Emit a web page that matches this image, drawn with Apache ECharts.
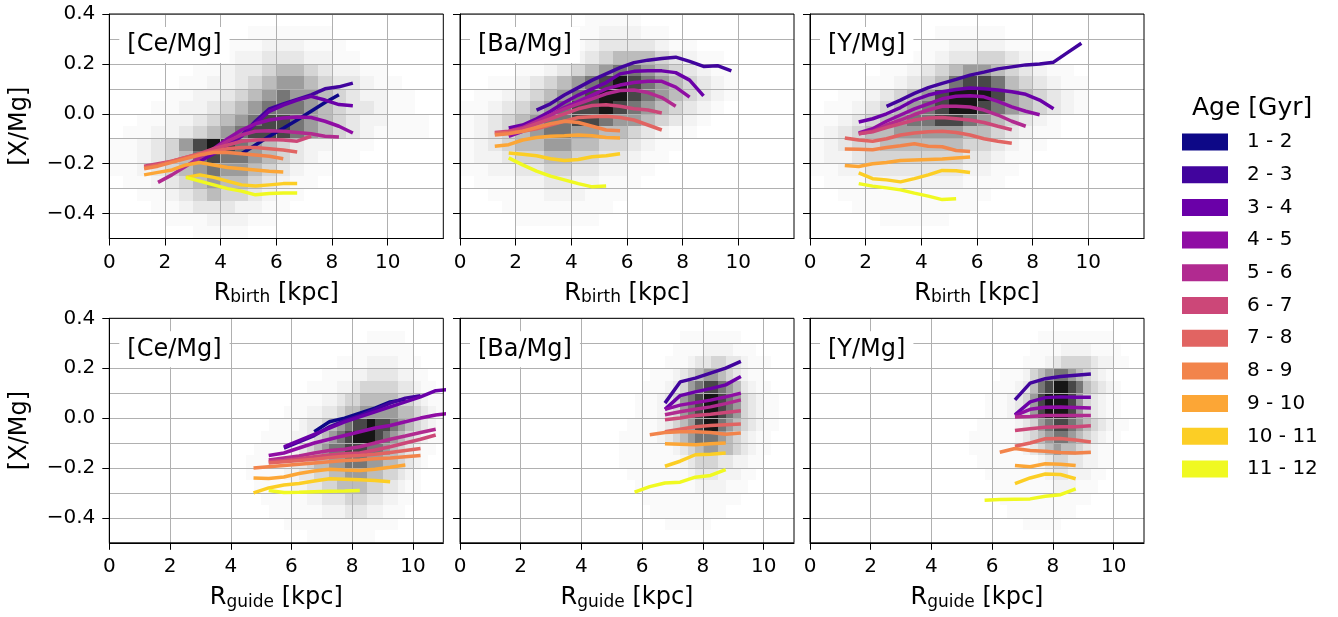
<!DOCTYPE html>
<html><head><meta charset="utf-8">
<script src="https://cdn.jsdelivr.net/npm/echarts@6/dist/echarts.min.js"></script>
<style>html,body{margin:0;padding:0;background:#fff}#c{width:1338px;height:617px}</style>
</head><body><div id="c"></div>
<script>
// ---------------- DATA ----------------
const ageBins = ['1 - 2','2 - 3','3 - 4','4 - 5','5 - 6','6 - 7','7 - 8','8 - 9','9 - 10','10 - 11','11 - 12'];
const panelLabels = ['[Ce/Mg]','[Ba/Mg]','[Y/Mg]','[Ce/Mg]','[Ba/Mg]','[Y/Mg]'];
const xTickValues = [0,2,4,6,8,10];
const yTickValues = [-0.4,-0.2,0,0.2,0.4];
const medianBinStep = 0.5;           // spacing of the running-median bins (kpc)

// running medians per age bin: [first bin centre, [values...]] (null = not plotted)
const ceBirthLines = [
  [4.75, [-0.16,-0.125,-0.09,-0.058,-0.025,0.01,0.045,0.076]],
  [3.75, [-0.16,-0.125,-0.088,-0.03,0.02,0.04,0.058,0.076,0.1,0.108,0.123]],
  [3.25, [-0.19,-0.16,-0.125,-0.09,-0.04,0.01,0.035,0.055,0.07,0.055,0.037,0.032]],
  [3.25, [-0.17,-0.14,-0.1,-0.065,-0.04,-0.025,-0.017,-0.013,-0.015,-0.03,-0.05,-0.077]],
  [1.75, [-0.275,-0.245,-0.21,-0.175,-0.14,-0.11,-0.085,-0.07,-0.068,-0.07,-0.075,-0.08,-0.09,-0.093]],
  [1.25, [-0.21,-0.2,-0.19,-0.175,-0.16,-0.14,-0.125,-0.11,-0.105,-0.103,-0.105,-0.11,-0.09]],
  [1.25, [-0.215,-0.205,-0.19,-0.175,-0.16,-0.15,-0.14,-0.135,-0.135,-0.14,-0.145,-0.153]],
  [1.25, [-0.22,-0.21,-0.195,-0.18,-0.165,-0.155,-0.155,-0.16,-0.165,-0.17,-0.18]],
  [1.25, [-0.245,-0.235,-0.225,-0.205,-0.195,-0.205,-0.215,-0.22,-0.225,-0.23,-0.233]],
  [2.75, [-0.255,-0.245,-0.255,-0.27,-0.285,-0.29,-0.285,-0.28,-0.28]],
  [2.75, [-0.255,-0.27,-0.285,-0.3,-0.31,-0.325,-0.32,-0.318,-0.318]]
];
const baBirthLines = [
  null,
  [2.75, [0.015,0.04,0.075,0.105,0.135,0.16,0.185,0.205,0.215,0.222,0.227,0.21,0.19,0.193,0.172]],
  [1.75, [-0.057,-0.045,-0.02,0.01,0.045,0.075,0.1,0.125,0.16,0.17,0.172,0.172,0.165,0.135,0.072]],
  [1.75, [-0.09,-0.07,-0.035,-0.005,0.025,0.05,0.075,0.1,0.115,0.125,0.13,0.13,0.107,0.067]],
  [1.75, [-0.07,-0.055,-0.03,-0.005,0.02,0.04,0.06,0.08,0.093,0.095,0.085,0.065,0.03]],
  [1.25, [-0.075,-0.07,-0.06,-0.04,-0.02,0.0,0.02,0.033,0.036,0.03,0.02,0.015,0.003]],
  [1.25, [-0.078,-0.075,-0.07,-0.06,-0.045,-0.03,-0.015,-0.012,-0.01,-0.015,-0.025,-0.045,-0.065]],
  [1.25, [-0.085,-0.08,-0.07,-0.055,-0.04,-0.03,-0.035,-0.05,-0.065,-0.068]],
  [1.25, [-0.13,-0.124,-0.105,-0.095,-0.09,-0.088,-0.085,-0.088,-0.095,-0.097]],
  [1.75, [-0.157,-0.162,-0.168,-0.18,-0.187,-0.183,-0.172,-0.168,-0.16]],
  [1.75, [-0.177,-0.205,-0.23,-0.25,-0.265,-0.28,-0.293,-0.29]]
];
const yBirthLines = [
  null,
  [2.75, [0.03,0.055,0.082,0.105,0.122,0.138,0.155,0.167,0.18,0.188,0.196,0.2,0.207,0.245,0.283]],
  [1.75, [-0.033,-0.02,0.0,0.025,0.055,0.075,0.088,0.097,0.103,0.1,0.095,0.088,0.078,0.055,0.02]],
  [1.75, [-0.077,-0.06,-0.03,-0.005,0.02,0.04,0.06,0.07,0.072,0.068,0.05,0.028,0.01,-0.004]],
  [1.75, [-0.08,-0.07,-0.045,-0.025,-0.003,0.015,0.03,0.03,0.027,0.015,-0.005,-0.03,-0.05]],
  [1.75, [-0.08,-0.072,-0.055,-0.04,-0.025,-0.017,-0.015,-0.02,-0.025,-0.035,-0.05,-0.064]],
  [1.25, [-0.097,-0.105,-0.11,-0.1,-0.085,-0.077,-0.072,-0.07,-0.075,-0.085,-0.1,-0.11,-0.118]],
  [1.25, [-0.141,-0.142,-0.144,-0.135,-0.128,-0.12,-0.13,-0.132,-0.147,-0.151]],
  [1.25, [-0.207,-0.211,-0.2,-0.195,-0.187,-0.185,-0.183,-0.181,-0.177,-0.173]],
  [1.75, [-0.237,-0.26,-0.265,-0.273,-0.26,-0.245,-0.227,-0.228,-0.235]],
  [1.75, [-0.28,-0.29,-0.297,-0.305,-0.318,-0.33,-0.344,-0.341]]
];
const ceGuideLines = [
  [6.75, [-0.055,-0.015,0.0,0.02,0.04,0.065,0.075]],
  [5.75, [-0.12,-0.095,-0.07,-0.035,-0.01,0.01,0.035,0.06,0.08,0.09]],
  [5.75, [-0.115,-0.09,-0.065,-0.04,-0.015,0.005,0.025,0.045,0.065,0.085,0.11,0.115]],
  [5.25, [-0.15,-0.14,-0.12,-0.1,-0.085,-0.07,-0.055,-0.04,-0.03,-0.015,0.0,0.012,0.02]],
  [5.25, [-0.168,-0.16,-0.152,-0.14,-0.13,-0.125,-0.115,-0.1,-0.085,-0.072,-0.058,-0.045]],
  [5.25, [-0.175,-0.17,-0.163,-0.155,-0.148,-0.143,-0.14,-0.128,-0.115,-0.1,-0.085,-0.068]],
  [5.25, [-0.18,-0.175,-0.17,-0.165,-0.158,-0.153,-0.15,-0.145,-0.138,-0.13,-0.122]],
  [4.75, [-0.2,-0.195,-0.19,-0.185,-0.18,-0.175,-0.17,-0.168,-0.163,-0.16,-0.155,-0.15]],
  [4.75, [-0.24,-0.242,-0.236,-0.222,-0.212,-0.205,-0.208,-0.21,-0.205,-0.197,-0.188]],
  [4.75, [-0.3,-0.28,-0.268,-0.262,-0.252,-0.243,-0.245,-0.247,-0.25,-0.255]],
  [5.25, [-0.29,-0.298,-0.297,-0.295,-0.293,-0.292,-0.29]]
];
const baGuideLines = [
  null,
  [6.75, [0.06,0.145,0.16,0.18,0.2,0.227]],
  [6.75, [0.035,0.09,0.105,0.118,0.133,0.167]],
  [6.75, [0.035,0.052,0.062,0.072,0.085,0.1]],
  [6.75, [0.013,0.025,0.035,0.045,0.058,0.073]],
  [6.75, [-0.007,0.0,0.01,0.015,0.022,0.029]],
  [6.75, [-0.055,-0.045,-0.035,-0.03,-0.027,-0.024]],
  [6.25, [-0.067,-0.058,-0.055,-0.055,-0.058,-0.065,-0.06]],
  [6.75, [-0.103,-0.105,-0.107,-0.103,-0.1]],
  [6.75, [-0.193,-0.173,-0.147,-0.145,-0.14]],
  [5.75, [-0.297,-0.275,-0.26,-0.257,-0.237,-0.23,-0.207]]
];
const yGuideLines = [
  null,
  [6.75, [0.073,0.14,0.158,0.167,0.172,0.177]],
  [6.75, [0.013,0.065,0.082,0.085,0.083,0.083]],
  [6.75, [0.01,0.035,0.043,0.044,0.042,0.04]],
  [6.75, [0.004,0.006,0.01,0.01,0.01,0.01]],
  [6.75, [-0.05,-0.043,-0.037,-0.035,-0.035,-0.031]],
  [6.75, [-0.113,-0.1,-0.083,-0.082,-0.088,-0.096]],
  [6.25, [-0.137,-0.122,-0.13,-0.133,-0.138,-0.14,-0.137]],
  [6.75, [-0.19,-0.195,-0.183,-0.185,-0.19]],
  [6.75, [-0.263,-0.24,-0.224,-0.226,-0.243]],
  [5.75, [-0.329,-0.326,-0.325,-0.324,-0.313,-0.307,-0.284]]
];

// 2D histogram density levels (0..9); rows from top (0.35..0.40) to bottom (-0.50..-0.45)
const histYTop = 0.4, histDY = 0.05;
const birthHistX0 = 0, birthHistDX = 0.5;     // 24 columns, 0..12 kpc
const guideHistX0 = 4, guideHistDX = 0.25;    // 28 columns, 4..11 kpc
const ceBirthHist = [
  "000000000000000000000000","000000000011111100000000","000000001112221110000000",
  "000000011223332211000000","000000112334554322110000","000001122345665433211000",
  "000011223456766543221100","000112234567776543321100","001122345678876543221110",
  "011223456788876543211110","112346898765432211100000","112345787765432111000000",
  "112345676654321100000000","011234565543211000000000","001123454432110000000000",
  "000112333221100000000000","000011122211000000000000","000000111100000000000000"
];
const baBirthHist = [
  "000000000111100000000000","000000001122211000000000","000000011233332110000000",
  "000000112345554321100000","000011234567765432110000","001123456789876543210000",
  "011234567899876543210000","112345678898765432100000","123456778876654321000000",
  "123456776655432110000000","123455665544321100000000","122344554433211000000000",
  "112233443322110000000000","011122332211100000000000","001111222111000000000000",
  "000111111110000000000000","000011111100000000000000","000000000000000000000000"
];
const yBirthHist = [
  "000000000000000000000000","000000000111110000000000","000000001122221100000000",
  "000000011233443211000000","000001123456654321100000","000011234578875432110000",
  "001123456899986543210000","011234567899876543210000","112345677887654321000000",
  "123455666665543211000000","123445555554432110000000","122344444443321100000000",
  "112233333332211000000000","011122222221110000000000","001111111111100000000000",
  "000111111111000000000000","000001111100000000000000","000000000000000000000000"
];
const ceGuideHist = [
  "0000000000000000000000000000","0000000000000000001111100000","0000000000000000111111110000",
  "0000000000000011112222111000","0000000000001111223333221100","0000000000111122344444332110",
  "0000000011112234455555443211","0000000111223345566666554321","0000011112334567889887654321",
  "0000111122345678999876543211","0001111223456778887765432110","0011112233455667776655432100",
  "0011111223344556665544321000","0001111122334455554433211000","0000111111223334443322110000",
  "0000011111112223332211100000","0000000111111111111111000000","0000000000111111111000000000"
];
const baGuideHist = [
  "0000000000000000000000000000","0000000000000111111110000000","0000000000001111222211100000",
  "0000000000011123344332111000","0000000001112345665432110000","0000000011123467887653211000",
  "0000000111234678998764321100","0000000111234678998764321100","0000001111234568997654321100",
  "0000011111234567776543211000","0000011111112345665543211000","0000011111111234443322110000",
  "0000001111111123332221100000","0000000111111112222111000000","0000000011111111111110000000",
  "0000000001111111111000000000","0000000000011111100000000000","0000000000000000000000000000"
];
const yGuideHist = [
  "0000000000000000000000000000","0000000000000011111111110000","0000000000000111122221111000",
  "0000000000001112344443221100","0000000001112456776543210000","0000000011123578998754321000",
  "0000000111234689998643211000","0000000111234689998643211000","0000001111123467887654321100",
  "0000011111123456776543211000","0000011111112345655432110000","0000001111111123443322110000",
  "0000000111111112332221100000","0000000011111111222111000000","0000000001111111111110000000",
  "0000000000111111111000000000","0000000000001111100000000000","0000000000000000000000000000"
];

// ---------------- STYLE / LAYOUT ----------------
const ageColors = ['#0d0887','#41049d','#6a00a8','#8f0da4','#b12a90','#cc4778','#e16462','#f2844b','#fca636','#fcce25','#f0f921'];
const GRAY = [255,250,243,231,213,188,156,118,72,22];
const FONT = 'DejaVu Sans';
const lefts = [109.3, 460, 810], tops = [14, 318.3], W = 334, H = 224.5;

const panels = [
  {lines: ceBirthLines, hist: ceBirthHist, x0: birthHistX0, dx: birthHistDX, xmax: 12, name: 'birth'},
  {lines: baBirthLines, hist: baBirthHist, x0: birthHistX0, dx: birthHistDX, xmax: 12, name: 'birth'},
  {lines: yBirthLines,  hist: yBirthHist,  x0: birthHistX0, dx: birthHistDX, xmax: 12, name: 'birth'},
  {lines: ceGuideLines, hist: ceGuideHist, x0: guideHistX0, dx: guideHistDX, xmax: 11, name: 'guide'},
  {lines: baGuideLines, hist: baGuideHist, x0: guideHistX0, dx: guideHistDX, xmax: 11, name: 'guide'},
  {lines: yGuideLines,  hist: yGuideHist,  x0: guideHistX0, dx: guideHistDX, xmax: 11, name: 'guide'}
];

function histCells(rows, x0, dx) {
  const cells = [];
  rows.forEach((row, r) => {
    const yb = histYTop - histDY * (r + 1);
    for (let c = 0; c < row.length; c++) {
      const lv = +row[c];
      if (lv > 0) cells.push([x0 + dx * c, yb, lv]);
    }
  });
  return cells;
}
const fmtY = v => (v < 0 ? '\u2212' : '') + Math.abs(v).toFixed(1);

const grids = [], xAxes = [], yAxes = [], series = [], titles = [];
panels.forEach((p, i) => {
  const row = Math.floor(i / 3), col = i % 3;
  grids.push({left: lefts[col], top: tops[row], width: W, height: H, show: true,
    backgroundColor: 'transparent', borderColor: '#000', borderWidth: 1, z: 10});
  xAxes.push({gridIndex: i, type: 'value', min: 0, max: p.xmax, interval: 2, z: 3,
    axisLine: {show: true, onZero: false, lineStyle: {color: '#000', width: 1}},
    axisTick: {show: true, length: 7, lineStyle: {color: '#000', width: 1}, customValues: xTickValues},
    axisLabel: {show: true, customValues: xTickValues, margin: 14, fontSize: 20, color: '#000', fontFamily: FONT},
    splitLine: {show: true, lineStyle: {color: '#b0b0b0', width: 1}},
    name: '{a|R}{b|' + p.name + '}{a| [kpc]}', nameLocation: 'middle', nameGap: 42,
    nameTextStyle: {fontFamily: FONT, color: '#000', rich: {
      a: {fontSize: 24, fontFamily: FONT, color: '#000'},
      b: {fontSize: 17, fontFamily: FONT, color: '#000', padding: [9, 0, 0, 0]}
    }}
  });
  yAxes.push({gridIndex: i, type: 'value', position: 'left', min: -0.5, max: 0.4, interval: 0.1, z: 3,
    axisLine: {show: true, onZero: false, lineStyle: {color: '#000', width: 1}},
    axisTick: {show: false}, axisLabel: {show: false},
    splitLine: {show: true, lineStyle: {color: '#b0b0b0', width: 1}},
    name: col === 0 ? '[X/Mg]' : '', nameLocation: 'middle', nameGap: 78,
    nameTextStyle: {fontSize: 24, fontFamily: FONT, color: '#000'}
  });
  yAxes.push({gridIndex: i, type: 'value', position: 'left', min: -0.5, max: 0.4, interval: 0.1, z: 3,
    axisLine: {show: false, onZero: false},
    axisTick: {show: true, length: 7, lineStyle: {color: '#000', width: 1}, customValues: yTickValues},
    axisLabel: {show: col === 0, customValues: yTickValues, margin: 14, fontSize: 20, color: '#000', fontFamily: FONT, formatter: fmtY},
    splitLine: {show: false}
  });
  const dx = p.dx, dy = histDY;
  series.push({type: 'custom', xAxisIndex: i, yAxisIndex: 2 * i, z: 1, silent: true, clip: true,
    encode: {x: 0, y: 1},
    data: histCells(p.hist, p.x0, p.dx),
    renderItem: (params, api) => {
      const a = api.coord([api.value(0), api.value(1) + dy]);
      const b = api.coord([api.value(0) + dx, api.value(1)]);
      const x1 = Math.round(a[0]), y1 = Math.round(a[1]), x2 = Math.round(b[0]), y2 = Math.round(b[1]);
      const g = GRAY[api.value(2)];
      return {type: 'rect', shape: {x: x1, y: y1, width: x2 - x1, height: y2 - y1},
        style: {fill: 'rgb(' + g + ',' + g + ',' + g + ')', stroke: null}};
    }
  });
  p.lines.forEach((ln, k) => {
    if (!ln) return;
    const x0 = ln[0];
    series.push({type: 'line', name: ageBins[k], xAxisIndex: i, yAxisIndex: 2 * i,
      data: ln[1].map((y, j) => [x0 + medianBinStep * j, y]),
      showSymbol: false, symbol: 'none', clip: true, z: 5,
      lineStyle: {width: 3.5, color: ageColors[k]}, itemStyle: {color: ageColors[k]}});
  });
  titles.push({text: panelLabels[i], left: lefts[col] + 10, top: tops[row] + 13, padding: [6, 8],
    backgroundColor: '#fff', textStyle: {fontSize: 24, fontWeight: 'normal', fontFamily: FONT, color: '#000'}});
});
titles.push({text: 'Age [Gyr]', left: 1192, top: 96, padding: 0,
  textStyle: {fontSize: 25, fontWeight: 'normal', fontFamily: FONT, color: '#000'}});

const chart = echarts.init(document.getElementById('c'), null, {renderer: 'canvas'});
chart.setOption({
  animation: false,
  backgroundColor: '#fff',
  textStyle: {fontFamily: FONT},
  title: titles,
  legend: {data: ageBins, orient: 'vertical', left: 1182, top: 132, padding: 0,
    itemWidth: 46, itemHeight: 17, itemGap: 12.7, icon: 'rect', selectedMode: false,
    textStyle: {fontSize: 20, fontFamily: FONT, color: '#000', padding: [0, 0, 0, 14]}},
  grid: grids, xAxis: xAxes, yAxis: yAxes, series: series
});
</script></body></html>
